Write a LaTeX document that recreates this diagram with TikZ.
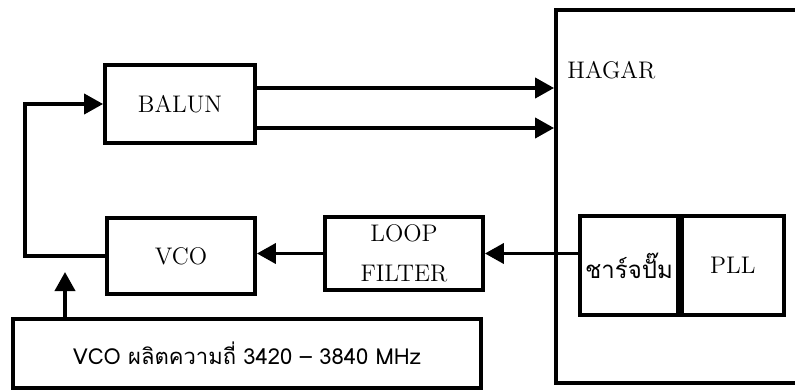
\documentclass[tikz,border=0pt]{standalone}
\usepackage{fontspec}
\usepackage{tikz}
\usetikzlibrary{arrows.meta}
\usetikzlibrary{positioning}
\newfontfamily\thaifont[Script=Thai]{Loma}
\tikzset{
	blk/.style={draw, line width=1.9pt, inner sep=0pt, font=\large},
	arr/.style={line width=1.9pt, -{Triangle[length=9.5pt,width=10pt]}}
}

\begin{document}
\begin{tikzpicture}[x=0.5pt, y=-0.5pt]
		\useasboundingbox (0,0) rectangle (795,390);
		\node[blk, minimum width=75pt, minimum height=39pt] (balun) at (180,104) {BALUN};
		\node[blk, minimum width=137pt, minimum height=186.5pt] (hagar) at (693,196.5) {};
		\node[font=\large, anchor=west, inner sep=0pt] (hagartxt) at (567,70) {HAGAR};
		\node[blk, minimum width=74pt, minimum height=38pt] (vco) at (181,256) {VCO};
		\node[blk, minimum width=79pt, minimum height=36.5pt, align=center] (loopf) at (404,253.5)
		{LOOP\\[6pt]FILTER};
		\node[blk, minimum width=49pt, minimum height=49.5pt, font=\large\thaifont] (pump) at (629,265.5) {ชาร์จปั๊ม};
		\node[blk, minimum width=51pt, minimum height=49.5pt, right=0pt of pump] (pll) {PLL};
		\node[blk, minimum width=234pt, minimum height=34.5pt, font=\fontsize{11}{13}\thaifont] (freq) at (247,353.5)
		{VCO ผลิตความถี่ 3420 – 3840 MHz};
		\coordinate (fb) at (25,256);
		\coordinate (vcoin) at (65,272);
		\draw[arr] (vco.west) -- (fb) |- (balun.west);
		\draw[arr] ([yshift=8pt]balun.east) -- ([yshift=8pt]balun.east -| hagar.west);
		\draw[arr] ([yshift=-12pt]balun.east) -- ([yshift=-12pt]balun.east -| hagar.west);
		\draw[arr] (loopf.west) -- (loopf.west -| vco.east);
		\draw[arr] ([yshift=6pt]pump.west) -- ([yshift=6pt]pump.west -| loopf.east);
		\draw[arr] (freq.north -| vcoin) -- (vcoin);
	\end{tikzpicture}
\end{document}
